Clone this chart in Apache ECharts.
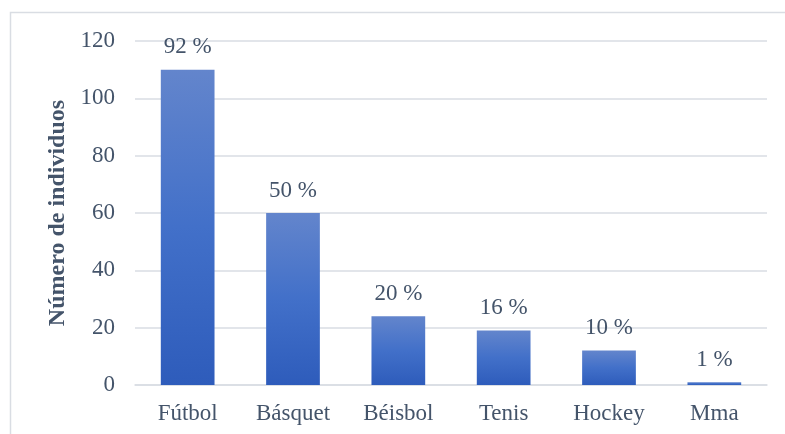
<!DOCTYPE html>
<html>
<head>
<meta charset="utf-8">
<script src="https://cdn.jsdelivr.net/npm/echarts@6/dist/echarts.min.js"></script>
<style>
  html, body { margin: 0; padding: 0; background: #fff; }
  #chart { width: 785px; height: 434px; }
</style>
</head>
<body>
<div id="chart"></div>
<script>
// datos
const categories = ['Fútbol', 'Básquet', 'Béisbol', 'Tenis', 'Hockey', 'Mma']
const individuos = [110, 60, 24, 19, 12, 1]
const porcentajes = ['92 %', '50 %', '20 %', '16 %', '10 %', '1 %']

const textColor = '#44546a'
const fontFamily = '"Liberation Serif", "Times New Roman", serif'

const chart = echarts.init(document.getElementById('chart'))

const option = {
  animation: false,
  textStyle: { fontFamily: fontFamily },
  graphic: [{
    type: 'rect',
    shape: { x: 10.5, y: 12.5, width: 790, height: 440 },
    style: { fill: 'none', stroke: '#d9dde3', lineWidth: 1.5 }
  }],
  grid: {
    left: 135,
    right: 18,
    top: 41,
    bottom: 49
  },
  xAxis: {
    type: 'category',
    data: categories,
    axisLine: { lineStyle: { color: '#d9dde3', width: 1.5 } },
    axisTick: { show: false },
    axisLabel: {
      color: textColor,
      fontSize: 23,
      fontFamily: fontFamily,
      margin: 17
    }
  },
  yAxis: {
    type: 'value',
    min: 0,
    max: 120,
    interval: 20,
    name: 'Número de individuos',
    nameLocation: 'middle',
    nameGap: 63,
    nameTextStyle: {
      color: textColor,
      fontSize: 24,
      fontWeight: 'bold',
      fontFamily: fontFamily
    },
    axisLine: { show: false },
    axisTick: { show: false },
    splitLine: { lineStyle: { color: '#d9dde3', width: 1.5 } },
    axisLabel: {
      color: textColor,
      fontSize: 23,
      fontFamily: fontFamily,
      margin: 20
    }
  },
  series: [{
    type: 'bar',
    data: individuos,
    barWidth: '51%',
    itemStyle: {
      color: new echarts.graphic.LinearGradient(0, 0, 0, 1, [
        { offset: 0, color: '#6385cc' },
        { offset: 0.5, color: '#4270c9' },
        { offset: 1, color: '#2e5cbb' }
      ])
    },
    label: {
      show: true,
      position: 'top',
      distance: 11,
      color: textColor,
      fontSize: 23,
      fontFamily: fontFamily,
      formatter: (p) => porcentajes[p.dataIndex]
    }
  }]
}

chart.setOption(option)
</script>
</body>
</html>
